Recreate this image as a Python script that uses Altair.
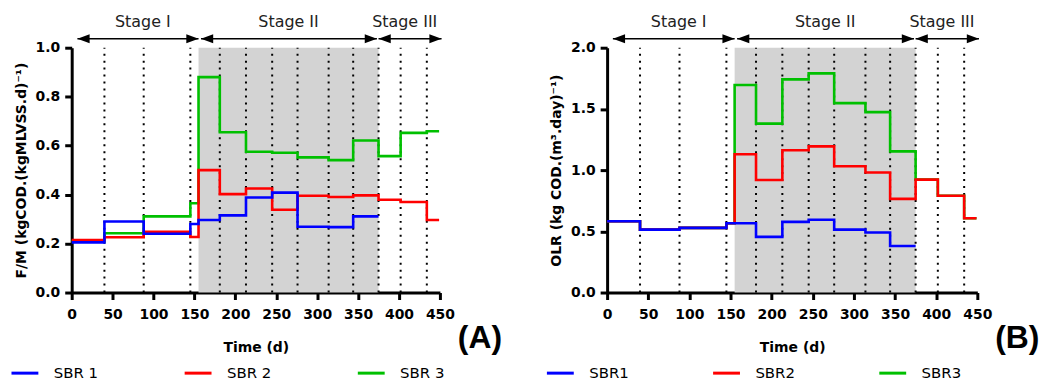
import altair as alt
import pandas as pd

# step break points (days); each value holds until the next break
breaks = [0, 40, 88, 145, 155, 181, 213, 245, 276, 314, 344, 375, 402, 434, 449]

fm_sbr1 = [0.205, 0.29, 0.24, 0.28, 0.296, 0.315, 0.388, 0.408, 0.269, 0.267, 0.311, 0.311, None, None, None]
fm_sbr2 = [0.214, 0.226, 0.248, 0.227, 0.50, 0.402, 0.425, 0.338, 0.395, 0.39, 0.397, 0.379, 0.37, 0.296, 0.296]
fm_sbr3 = [0.21, 0.242, 0.311, 0.365, 0.88, 0.655, 0.575, 0.571, 0.552, 0.541, 0.621, 0.557, 0.652, 0.659, 0.659]

olr_sbr1 = [0.582, 0.514, 0.528, 0.566, 0.566, 0.455, 0.577, 0.595, 0.514, 0.49, 0.38, 0.38, None, None, None]
olr_sbr2 = [0.582, 0.514, 0.528, 0.566, 1.129, 0.919, 1.162, 1.194, 1.032, 0.981, 0.765, 0.922, 0.79, 0.607, 0.607]
olr_sbr3 = [0.582, 0.514, 0.528, 0.566, 1.695, 1.38, 1.741, 1.79, 1.547, 1.474, 1.153, 0.922, 0.79, 0.607, 0.607]

names_a = ["SBR 1", "SBR 2", "SBR 3"]
names_b = ["SBR1", "SBR2", "SBR3"]
colors = ["#0000ff", "#ff0000", "#00c000"]

divider_days = [40, 88, 145, 181, 213, 245, 276, 314, 344, 375, 402, 434]
shade_start = [155]
shade_end = [375]

stage_names = ["Stage I", "Stage II", "Stage III"]
stage_start = [7, 158, 375]
stage_end = [155, 373, 452]
stage_mid = [87, 265, 407]

x_ticks = [0, 50, 100, 150, 200, 250, 300, 350, 400, 450]
fm_ticks = [0.0, 0.2, 0.4, 0.6, 0.8, 1.0]
olr_ticks = [0.0, 0.5, 1.0, 1.5, 2.0]

W, H = 370, 246
BOLD = "DejaVu Sans"


def line_table(names, series):
    rows = []
    # draw SBR3 first, SBR1 last (on top)
    for name, vals in reversed(list(zip(names, series))):
        for d, v in zip(breaks, vals):
            if v is not None:
                rows.append({"day": d, "value": v, "series": name})
    return pd.DataFrame(rows)


def panel(names, series, ymax, yticks, ytitle, tag, legend_pad, width):
    xs = alt.Scale(domain=[0, 450], nice=False, zero=False)
    ys = alt.Scale(domain=[0, ymax], nice=False)
    xax = alt.Axis(values=x_ticks, title="Time (d)", titlePadding=19,
                   labelPadding=8, labelFlush=False)
    yax = alt.Axis(values=yticks, format=".1f", title=ytitle, titlePadding=7,
                   labelPadding=5, labelFlush=False)

    def X(field):
        return alt.X(field, type="quantitative", scale=xs, axis=xax)

    shade = alt.Chart(pd.DataFrame({"s": shade_start, "e": shade_end})).mark_rect(
        color="#d3d3d3"
    ).encode(
        x=X("s"), x2="e:Q",
        y=alt.Y(datum=0, scale=ys, axis=yax), y2=alt.Y2(datum=ymax),
    )

    dots = alt.Chart(pd.DataFrame({"d": divider_days})).mark_rule(
        color="black", strokeWidth=2, strokeDash=[2, 5]
    ).encode(
        x=X("d"),
        y=alt.Y(datum=0, scale=ys, axis=yax), y2=alt.Y2(datum=ymax),
    )

    lines = alt.Chart(line_table(names, series)).mark_line(
        interpolate="step-after", strokeWidth=2.6
    ).encode(
        x=X("day"),
        y=alt.Y("value:Q", scale=ys, axis=yax),
        color=alt.Color(
            "series:N",
            scale=alt.Scale(domain=names, range=colors),
            legend=alt.Legend(
                orient="none", legendX=-62, legendY=H + 66, padding=0,
                direction="horizontal", columns=3, columnPadding=legend_pad,
                symbolType="stroke", symbolStrokeWidth=3, symbolSize=729,
                labelFont=BOLD, labelFontSize=15, labelOffset=14,
                labelColor="black", title=None,
            ),
        ),
        detail="series:N",
    )

    stages = pd.DataFrame({"name": stage_names, "s": stage_start, "e": stage_end, "m": stage_mid})
    base = alt.Chart(stages)
    arrow_line = base.mark_rule(color="black", strokeWidth=1.5).encode(
        x=X("s"), x2="e:Q", y=alt.value(-9)
    )
    head_r = base.mark_point(
        shape="M0,0L-2,-0.75L-2,0.75Z", filled=True, color="black", opacity=1, size=150
    ).encode(x=X("e"), y=alt.value(-9))
    head_l = base.mark_point(
        shape="M0,0L2,-0.75L2,0.75Z", filled=True, color="black", opacity=1, size=150
    ).encode(x=X("s"), y=alt.value(-9))
    stage_text = base.mark_text(font=BOLD, fontSize=16, color="#222222").encode(
        x=X("m"), y=alt.value(-26), text="name:N"
    )

    tag_text = alt.Chart(pd.DataFrame({"t": [tag]})).mark_text(
        font="Liberation Sans", fontSize=32, fontWeight="bold", align="left",
        baseline="middle", color="black"
    ).encode(text="t:N", x=alt.value(width + 18), y=alt.value(H + 46))

    return alt.layer(
        shade, dots, lines, arrow_line, head_r, head_l, stage_text, tag_text
    ).properties(width=width, height=H)


pA = panel(names_a, [fm_sbr1, fm_sbr2, fm_sbr3], 1.0, fm_ticks,
           "F/M (kgCOD.(kgMLVSS.d)⁻¹)", "(A)", 80, 370)
pB = panel(names_b, [olr_sbr1, olr_sbr2, olr_sbr3], 2.0, olr_ticks,
           "OLR (kg COD.(m³.day)⁻¹)", "(B)", 78, 372)

chart = alt.hconcat(
    pA, pB, spacing=43, background="white",
    padding={"left": 2, "top": 5, "right": 5, "bottom": 0},
).resolve_scale(
    color="independent", x="independent", y="independent"
).configure_view(stroke=None).configure_axis(
    grid=False,
    domainColor="black", domainWidth=3,
    tickColor="black", tickWidth=3, tickSize=7,
    labelFont=BOLD, labelFontWeight="bold", labelFontSize=14, labelColor="black",
    titleFont=BOLD, titleFontWeight="bold", titleFontSize=14, titleColor="black",
)

chart.save("out.html", embed_options={"renderer": "svg", "actions": False})
